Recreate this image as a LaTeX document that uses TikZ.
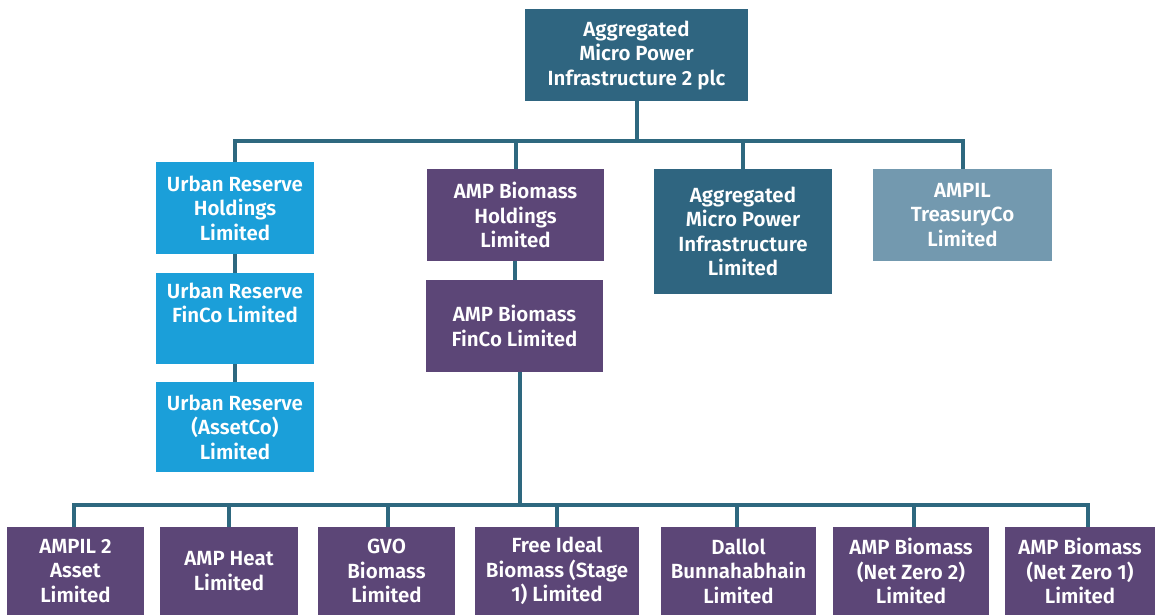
\documentclass[tikz,border=0pt]{standalone}
\usepackage{fontspec}
\setmainfont{Fira Sans}[UprightFont=* SemiBold]
\usetikzlibrary{calc}
\definecolor{teal}{HTML}{2F6580}
\definecolor{plum}{HTML}{5C4677}
\definecolor{sky}{HTML}{1B9FD9}
\definecolor{slate}{HTML}{7399AF}
\definecolor{linec}{HTML}{2E687F}
\tikzset{
  box/.style={rectangle, inner sep=0pt, align=center, text=white,
    font=\fontsize{20.5}{24.5}\selectfont},
  conn/.style={draw=linec, line width=4pt, line join=miter}
}
\begin{document}
\begin{tikzpicture}[x=1pt,y=-1pt]
\useasboundingbox (0,0) rectangle (1155,615);
% top
\node[box, fill=teal, minimum width=223pt, minimum height=92pt] (top) at (636.5,55) {Aggregated\\Micro Power\\Infrastructure 2 plc};
% second level
\node[box, fill=sky, minimum width=158pt, minimum height=92pt] (urh) at (235,208) {Urban Reserve\\Holdings\\Limited};
\node[box, fill=sky, minimum width=158pt, minimum height=91pt] (urf) at (235,318.5) {Urban Reserve\\FinCo Limited\\\strut};
\node[box, fill=sky, minimum width=158pt, minimum height=90pt] (ura) at (235,427) {Urban Reserve\\(AssetCo)\\Limited};
\node[box, fill=plum, minimum width=177pt, minimum height=92pt] (abh) at (515.5,215) {AMP Biomass\\Holdings\\Limited};
\node[box, fill=plum, minimum width=177pt, minimum height=92pt] (abf) at (514.5,326) {AMP Biomass\\FinCo Limited};
\node[box, fill=teal, minimum width=178pt, minimum height=125pt] (ampl) at (743,231.5) {Aggregated\\Micro Power\\Infrastructure\\Limited};
\node[box, fill=slate, minimum width=179pt, minimum height=92pt] (tre) at (962.5,215) {AMPIL\\TreasuryCo\\Limited};
% bottom level
\node[box, fill=plum, minimum width=137pt, minimum height=88pt] (b1) at (75.5,571) {AMPIL 2\\Asset\\Limited};
\node[box, fill=plum, minimum width=138pt, minimum height=88pt] (b2) at (229,571) {AMP Heat\\Limited};
\node[box, fill=plum, minimum width=137pt, minimum height=88pt] (b3) at (386.5,571) {GVO\\Biomass\\Limited};
\node[box, fill=plum, minimum width=164pt, minimum height=88pt] (b4) at (557,571) {Free Ideal\\Biomass (Stage\\1) Limited};
\node[box, fill=plum, minimum width=155pt, minimum height=88pt] (b5) at (738.5,571) {Dallol\\Bunnahabhain\\Limited};
\node[box, fill=plum, minimum width=156pt, minimum height=88pt] (b6) at (911,571) {AMP Biomass\\(Net Zero 2)\\Limited};
\node[box, fill=plum, minimum width=150pt, minimum height=88pt] (b7) at (1080,571) {AMP Biomass\\(Net Zero 1)\\Limited};
% junctions
\coordinate (j1) at (636.5,141);
\coordinate (j2) at (520,505);
% connectors upper
\draw[conn] (top.south) -- (j1);
\draw[conn] (urh.north) |- (j1) -| (tre.north);
\draw[conn] (abh.north) -- (abh.north |- j1);
\draw[conn] (ampl.north) -- (ampl.north |- j1);
\draw[conn] (urh.south) -- (urf.north);
\draw[conn] (urf.south) -- (ura.north);
\draw[conn] ([xshift=-1pt]abh.south) -- (abf.north);
% connectors lower
\draw[conn] ([xshift=5.5pt]abf.south) -- (j2);
\draw[conn] ([xshift=-1.5pt]b1.north) |- (j2) -| ([xshift=8pt]b7.north);
\draw[conn] (b2.north) -- (b2.north |- j2);
\draw[conn] ([xshift=1.5pt]b3.north) -- ([xshift=1.5pt]b3.north |- j2);
\draw[conn] (b4.north) -- (b4.north |- j2);
\draw[conn] ([xshift=-1.5pt]b5.north) -- ([xshift=-1.5pt]b5.north |- j2);
\draw[conn] ([xshift=3pt]b6.north) -- ([xshift=3pt]b6.north |- j2);
\end{tikzpicture}
\end{document}
